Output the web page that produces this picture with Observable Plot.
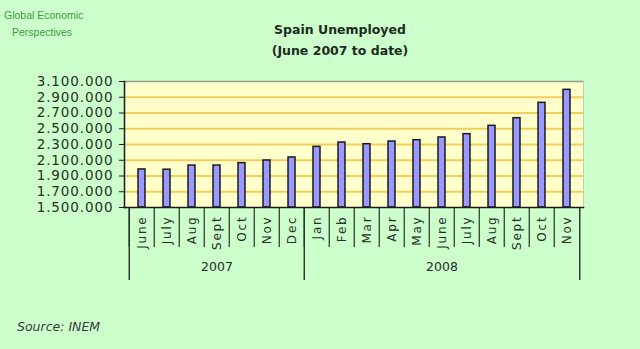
<!DOCTYPE html>
<html><head><meta charset="utf-8">
<script src="https://cdn.jsdelivr.net/npm/d3@7"></script>
<script src="https://cdn.jsdelivr.net/npm/@observablehq/plot@0.6"></script>
<style>
html,body{margin:0;padding:0;background:#ccffcc;}
#wrap{position:relative;width:640px;height:349px;overflow:hidden;background:#ccffcc;font-family:"DejaVu Sans",sans-serif;}
.t{position:absolute;white-space:nowrap;line-height:1;}
#brand1,#brand2{font-family:"Liberation Sans Narrow","Liberation Sans",sans-serif;font-size:10.5px;color:#3f9c3f;}
#brand1{left:4px;top:10px;}
#brand2{left:12px;top:27px;}
#title,#subtitle{font-weight:bold;font-size:12.5px;color:#1f2a1f;transform:translateX(-50%);left:340px;}
#title{top:24px;}
#subtitle{top:45px;}
#source{left:17px;top:321px;font-style:italic;font-size:12.5px;color:#3a3a3a;}
#chart{position:absolute;left:0;top:0;}
</style></head>
<body><div id="wrap">
<div id="chart"></div>
<div class="t" id="brand1">Global Economic</div>
<div class="t" id="brand2">Perspectives</div>
<div class="t" id="title">Spain Unemployed</div>
<div class="t" id="subtitle">(June 2007 to date)</div>
<div class="t" id="source">Source: INEM</div>
</div>
<script>
const months = ["June","July","Aug","Sept","Oct","Nov","Dec","Jan","Feb","Mar","Apr","May","June","July","Aug","Sept","Oct","Nov"];
const years = [2007,2007,2007,2007,2007,2007,2007,2008,2008,2008,2008,2008,2008,2008,2008,2008,2008,2008];
const unemployed = [1983000,1980000,2033000,2033000,2063000,2097000,2135000,2270000,2325000,2304000,2338000,2355000,2389000,2431000,2537000,2634000,2829000,2994000];
const yTicks = [1500000,1700000,1900000,2100000,2300000,2500000,2700000,2900000,3100000];
const yearLabels = ["2007","2008"];

const keys = months.map((m,i)=> years[i] + "-" + String(i).padStart(2,"0"));
const labelOf = new Map(keys.map((k,i)=>[k,months[i]]));
const data = keys.map((k,i)=>({key:k, month:months[i], year:years[i], value:unemployed[i]}));
const yMin = yTicks[0], yMax = yTicks[yTicks.length-1];
const fmt = v => d3.format(",")(v).replace(/,/g,".");

const yearData = yearLabels.map(y => {
  const ks = data.filter(d => String(d.year) === y).map(d => d.key);
  return {key: ks[Math.floor(ks.length/2)], text: y};
});
const firstOfYear = yearLabels.map(y => data.find(d => String(d.year) === y).key);

const W = 640, H = 349, mL = 124, mR = 57, mT = 81, mB = 142;
const step = (W - mL - mR) / keys.length;

const chart = Plot.plot({
  width: W, height: H,
  marginLeft: mL, marginRight: mR, marginTop: mT, marginBottom: mB,
  style: {background: "transparent", fontFamily: "DejaVu Sans, sans-serif", color: "#263026", overflow: "visible"},
  x: {domain: keys, padding: 0, axis: null},
  y: {domain: [yMin, yMax], axis: null},
  marks: [
    Plot.frame({fill: "#ffffcc", stroke: null}),
    Plot.gridY(yTicks.slice(1, -1), {stroke: "#f2cf5c", strokeOpacity: 1, strokeWidth: 2}),
    Plot.frame({anchor: "top", stroke: "#9a9a8a", strokeWidth: 1.5}),
    Plot.frame({anchor: "right", stroke: "#c8c8b8", strokeWidth: 1}),
    Plot.barY(data, {x: "key", y1: () => yMin, y2: "value", fill: "#9999ff", stroke: "#1a1a1a", strokeWidth: 1.5, insetLeft: 9, insetRight: 9}),
    Plot.axisX({ticks: keys, tickSize: 40, tickFormat: () => "", dx: -step/2, stroke: "#263026", strokeWidth: 1.2, label: null}),
    Plot.axisX({ticks: firstOfYear, tickSize: 73, tickFormat: () => "", dx: -step/2, stroke: "#263026", strokeWidth: 1.4, label: null}),
    Plot.axisX({ticks: [keys[keys.length-1]], tickSize: 73, tickFormat: () => "", dx: step/2, stroke: "#263026", strokeWidth: 1.4, label: null}),
    Plot.axisX({tickSize: 0, tickRotate: -90, tickPadding: 8, tickFormat: k => labelOf.get(k), fontSize: 12, label: null}),
    Plot.text(yearData, {x: "key", text: "text", frameAnchor: "bottom", dy: 63, fontSize: 12.5, fill: "#263026"}),
    Plot.frame({anchor: "left", stroke: "#1a1a1a", strokeWidth: 1.5}),
    Plot.frame({anchor: "bottom", stroke: "#1a1a1a", strokeWidth: 1.5}),
    Plot.axisY({ticks: yTicks, tickSize: 5, tickPadding: 6, tickFormat: fmt, fontSize: 13.5, label: null, stroke: "#1a1a1a"})
  ]
});
document.getElementById("chart").appendChild(chart);

d3.select(chart).selectAll("g[aria-label='x-axis tick label'] text").style("letter-spacing", "1.8px");
d3.select(chart).selectAll("g[aria-label='y-axis tick label'] text").style("letter-spacing", "0.9px");
</script>
</body></html>
